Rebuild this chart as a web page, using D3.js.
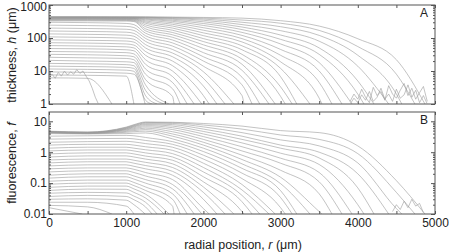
<!DOCTYPE html>
<html>
<head>
<meta charset="utf-8">
<script src="https://cdn.jsdelivr.net/npm/d3@7"></script>
<style>
  body { margin: 0; background: #fff; }
  svg { display: block; font-family: "Liberation Sans", Arial, sans-serif; }
</style>
</head>
<body>
<div id="chart-area"></div>
<script>
// radial grid the profiles were read on (um)
var R = [0, 500, 1000, 1100, 1250, 1600, 2000, 2500, 3000, 3500, 4000, 4500];

// radius where each profile runs out (um)
var ends = [4870, 4740, 4570, 4400, 4210, 4080, 3925, 3795, 3665, 3535, 3380, 3210,
    3150, 3060, 2930, 2850, 2730, 2630, 2525, 2395, 2280, 2175, 2075, 1980, 1880,
    1790, 1700, 1620, 1555, 1490, 1400, 1335, 1245, 1100, 815, 430];

// thickness h (um), one row per profile, values on R
// (the last profile is only the ragged trace drawn below)
var thickness = [
    [440, 440, 438, 437, 435, 430, 420, 400, 335, 230, 95, 22],
    [435, 435, 432, 432, 430, 420, 400, 350, 280, 170, 55, 8],
    [430, 430, 428, 427, 425, 405, 375, 300, 220, 120, 30, 2],
    [425, 425, 422, 421, 415, 390, 345, 255, 167, 80, 14],
    [420, 420, 416, 415, 405, 370, 310, 215, 123, 50, 5],
    [415, 415, 410, 408, 390, 345, 275, 180, 91, 32, 2],
    [410, 410, 405, 402, 375, 320, 240, 148, 66, 18],
    [405, 405, 400, 396, 355, 290, 205, 120, 45, 10],
    [400, 400, 395, 390, 330, 260, 172, 96, 30, 4.5],
    [390, 390, 385, 380, 305, 230, 143, 76, 19, 1.5],
    [380, 380, 375, 370, 280, 200, 118, 58, 12],
    [370, 370, 365, 358, 250, 172, 96, 44, 6.7],
    [360, 360, 355, 345, 220, 147, 78, 32, 3.3],
    [345, 345, 340, 330, 190, 125, 62, 23, 1.7],
    [330, 330, 325, 315, 165, 105, 48, 16],
    [300, 292, 276, 255, 140, 87, 36, 10.5],
    [245, 238, 225, 208, 117, 71, 27, 6.5],
    [200, 194, 184, 170, 97, 57, 20, 3.8],
    [163, 158, 150, 138, 79, 45, 14, 1.8],
    [133, 129, 122, 113, 63, 35, 9.5],
    [108, 105, 99, 92, 50, 27, 6],
    [88, 85, 81, 75, 39, 20, 3.5],
    [72, 70, 66, 61, 30, 14.5, 1.8],
    [59, 57, 54, 50, 22, 10],
    [48, 47, 44, 41, 16, 6.8],
    [39, 38, 36, 33, 11.5, 4.5],
    [32, 31, 29, 27, 8, 2.9],
    [26, 25, 24, 22, 5.5, 1.7],
    [21, 20, 19, 18, 3.8],
    [17, 16.5, 15.6, 14.5, 2.6],
    [14, 13.6, 12.9, 12, 1.8],
    [11.5, 11.2, 10.6, 9.8, 1.3],
    [9.4, 9.1, 8.6, 8],
    [7.6, 7.4, 7],
    [6.2, 6.0],
    []
];

// fluorescence f, same profiles, values on R
var fluorescence = [
    [4.8, 4.5, 6.5, 7.8, 9.5, 9.3, 8.5, 7.0, 5.0, 4.3, 1.6, 0.12],
    [4.7, 4.4, 6.3, 7.5, 9.2, 9.0, 7.6, 5.6, 3.6, 2.6, 0.9, 0.05],
    [4.6, 4.4, 6.1, 7.2, 8.8, 8.5, 6.6, 4.3, 2.5, 1.6, 0.45, 0.015],
    [4.6, 4.3, 5.9, 6.9, 8.3, 7.8, 5.6, 3.3, 1.7, 1.0, 0.2],
    [4.5, 4.3, 5.7, 6.6, 7.8, 7.0, 4.7, 2.6, 1.35, 0.65, 0.07],
    [4.5, 4.2, 5.5, 6.2, 7.2, 6.2, 3.9, 2.0, 0.93, 0.4, 0.02],
    [4.4, 4.2, 5.3, 5.8, 6.6, 5.4, 3.2, 1.5, 0.64, 0.22],
    [4.4, 4.1, 5.0, 5.4, 6.0, 4.6, 2.6, 1.1, 0.44, 0.11],
    [4.3, 4.1, 4.7, 5.0, 5.4, 3.9, 2.1, 0.8, 0.26, 0.045],
    [4.2, 4.0, 4.4, 4.6, 4.8, 3.3, 1.7, 0.58, 0.155, 0.012],
    [4.0, 3.9, 4.0, 4.1, 4.2, 2.7, 1.35, 0.42, 0.096],
    [3.3, 3.4, 3.5, 3.4, 3.0, 2.2, 1.05, 0.3, 0.057],
    [2.65, 2.75, 2.8, 2.7, 2.4, 1.8, 0.8, 0.21, 0.034],
    [2.1, 2.2, 2.25, 2.15, 1.9, 1.45, 0.6, 0.14, 0.016],
    [1.7, 1.8, 1.8, 1.7, 1.5, 1.15, 0.44, 0.09],
    [1.35, 1.45, 1.45, 1.35, 1.2, 0.9, 0.32, 0.06],
    [1.1, 1.18, 1.18, 1.1, 0.95, 0.7, 0.23, 0.04],
    [0.88, 0.95, 0.95, 0.88, 0.75, 0.55, 0.16, 0.025],
    [0.7, 0.76, 0.76, 0.7, 0.6, 0.42, 0.11, 0.012],
    [0.56, 0.6, 0.6, 0.55, 0.47, 0.32, 0.075],
    [0.45, 0.49, 0.49, 0.44, 0.37, 0.24, 0.05],
    [0.36, 0.39, 0.39, 0.35, 0.29, 0.18, 0.03],
    [0.29, 0.31, 0.31, 0.28, 0.22, 0.13, 0.015],
    [0.23, 0.25, 0.25, 0.22, 0.17, 0.09],
    [0.18, 0.2, 0.2, 0.17, 0.13, 0.065],
    [0.145, 0.16, 0.16, 0.135, 0.1, 0.045],
    [0.115, 0.125, 0.125, 0.105, 0.075, 0.03],
    [0.092, 0.1, 0.1, 0.083, 0.058, 0.018],
    [0.073, 0.08, 0.08, 0.065, 0.044],
    [0.058, 0.064, 0.063, 0.05, 0.033],
    [0.047, 0.05, 0.048, 0.038, 0.024],
    [0.037, 0.04, 0.037, 0.029, 0.017],
    [0.03, 0.031, 0.028, 0.02],
    [0.024, 0.024, 0.018],
    [0.019, 0.017],
    [0.016]
];

// noisy tails near the detection floor
var tailR = [3900, 3950, 4000, 4050, 4100, 4150, 4200, 4250, 4300, 4350, 4400,
    4450, 4500, 4550, 4600, 4650, 4700, 4750, 4800, 4850, 4900];
var tailH1 = [1.2, 2.0, 1.4, 2.8, 1.6, 1.1, 3.2, 1.8, 2.4, 1.3, 3.6, 2.0, 1.5, 2.6, 4.2, 1.8, 3.0, 1.4, 2.2, 3.4, 1.2];
var tailH2 = [1.0, 1.5, 1.1, 1.9, 1.3, 2.4, 1.2, 1.6, 3.0, 1.4, 2.0, 1.2, 2.8, 1.5, 1.9, 3.8, 1.6, 2.6, 1.1, 1.8, 1.0];
var tailFR = [4450, 4500, 4550, 4600, 4650, 4700, 4750, 4800, 4850];
var tailF = [0.012, 0.02, 0.014, 0.026, 0.016, 0.03, 0.018, 0.022, 0.011];
var jagR = [0, 40, 80, 120, 160, 200, 240, 280, 320, 360, 400, 440, 480, 520, 560, 600, 640];
var jagH = [6.5, 8, 6, 9, 7, 10, 7.5, 9.5, 8, 11, 8.5, 10, 7, 5, 3, 1.6, 1];

var xTicks = [0, 1000, 2000, 3000, 4000, 5000];
var xMinor = [500, 1500, 2500, 3500, 4500];
var hTicks = [1, 10, 100, 1000];
var fTicks = [0.01, 0.1, 1, 10];

var W = 449, H = 252;
var svg = d3.select("#chart-area")
    .append("svg")
    .attr("width", W)
    .attr("height", H);

var x = d3.scaleLinear().domain([0, 5000]).range([49, 435]);

var lineColor = "#9a9a9a";

function minorLog(lo, hi) {
    var out = [];
    for (var e = Math.floor(Math.log10(lo)); e < Math.ceil(Math.log10(hi)); e++) {
        for (var m = 2; m <= 9; m++) {
            var v = m * Math.pow(10, e);
            if (v > lo && v < hi) out.push(v);
        }
    }
    return out;
}

function styleAxis(sel) {
    sel.select(".domain").remove();
    sel.selectAll(".tick line").attr("stroke", "#555");
    sel.selectAll(".tick text")
        .attr("font-size", 12)
        .attr("fill", "#222")
        .attr("font-family", "Liberation Sans, Arial, sans-serif");
}

function panel(id, domain, top, bottom, rows, floor, ticks, fmt, letter, showX) {
    var y = d3.scaleLog().domain(domain).range([bottom, top]);
    var g = svg.append("g");

    g.append("clipPath").attr("id", "clip" + id)
        .append("rect")
        .attr("x", x(0)).attr("y", top)
        .attr("width", x(5000) - x(0)).attr("height", bottom - top);

    var line = d3.line()
        .x(function(d) { return x(d[0]); })
        .y(function(d) { return y(d[1]); })
        .curve(d3.curveMonotoneX);

    var curves = rows.map(function(vals, i) {
        var pts = vals.map(function(v, j) { return [R[j], v]; });
        pts.push([ends[i], floor]);
        return pts;
    }).filter(function(pts) { return pts.length > 1; });

    g.append("g")
        .attr("clip-path", "url(#clip" + id + ")")
        .selectAll("path")
        .data(curves)
        .enter()
        .append("path")
        .attr("d", line)
        .attr("fill", "none")
        .attr("stroke", lineColor)
        .attr("stroke-opacity", 0.85)
        .attr("stroke-width", 0.7);

    // frame
    g.append("rect")
        .attr("x", x(0)).attr("y", top)
        .attr("width", x(5000) - x(0)).attr("height", bottom - top)
        .attr("fill", "none")
        .attr("stroke", "#555")
        .attr("stroke-width", 1);

    // x ticks on bottom and top edges, pointing inward
    g.append("g").attr("transform", "translate(0," + bottom + ")")
        .call(d3.axisBottom(x).tickValues(xTicks.concat(xMinor)).tickSize(-3).tickPadding(4)
            .tickFormat(showX ? function(d) { return xTicks.indexOf(d) >= 0 ? d : ""; } : ""))
        .call(styleAxis);
    g.append("g").attr("transform", "translate(0," + top + ")")
        .call(d3.axisTop(x).tickValues(xTicks.concat(xMinor)).tickSize(-3).tickFormat(""))
        .call(styleAxis);

    // log ticks on left and right edges
    var minor = minorLog(domain[0], domain[1]);
    g.append("g").attr("transform", "translate(" + x(0) + ",0)")
        .call(d3.axisLeft(y).tickValues(ticks).tickSize(-4).tickPadding(2).tickFormat(fmt))
        .call(styleAxis);
    g.append("g").attr("transform", "translate(" + x(0) + ",0)")
        .call(d3.axisLeft(y).tickValues(minor).tickSize(-2).tickFormat(""))
        .call(styleAxis);
    g.append("g").attr("transform", "translate(" + x(5000) + ",0)")
        .call(d3.axisRight(y).tickValues(ticks).tickSize(-4).tickFormat(""))
        .call(styleAxis);
    g.append("g").attr("transform", "translate(" + x(5000) + ",0)")
        .call(d3.axisRight(y).tickValues(minor).tickSize(-2).tickFormat(""))
        .call(styleAxis);

    g.append("text")
        .attr("x", 424).attr("y", top + 12)
        .attr("text-anchor", "middle")
        .attr("font-size", 12)
        .attr("fill", "#222")
        .text(letter);

    return { g: g, y: y, clip: "url(#clip" + id + ")" };
}

var pA = panel("A", [1, 1000], 5, 104, thickness, 1, hTicks, d3.format("d"), "A", false);
var pB = panel("B", [0.01, 20], 112, 214, fluorescence, 0.01, fTicks,
    function(d) { return String(d); }, "B", true);

// keep the "1000" label inside the picture
pA.g.selectAll("text").filter(function() { return this.textContent === "1000"; })
    .attr("dy", "0.45em");

// noisy tails and the last ragged profile
function extra(p, rs, vs) {
    p.g.append("path")
        .datum(rs.map(function(r, i) { return [r, vs[i]]; }))
        .attr("clip-path", p.clip)
        .attr("d", d3.line().x(function(d) { return x(d[0]); }).y(function(d) { return p.y(d[1]); }))
        .attr("fill", "none")
        .attr("stroke", lineColor)
        .attr("stroke-opacity", 0.85)
        .attr("stroke-width", 0.7);
}
extra(pA, tailR, tailH1);
extra(pA, tailR, tailH2);
extra(pA, jagR, jagH);
extra(pB, tailFR, tailF);

// axis titles
svg.append("text")
    .attr("transform", "translate(16,55) rotate(-90)")
    .attr("text-anchor", "middle")
    .attr("font-size", 12.5)
    .attr("fill", "#222")
    .html('thickness, <tspan font-style="italic">h</tspan> (\u03bcm)');

svg.append("text")
    .attr("transform", "translate(16,163) rotate(-90)")
    .attr("text-anchor", "middle")
    .attr("font-size", 12.5)
    .attr("fill", "#222")
    .html('fluorescence, <tspan font-style="italic">f</tspan>');

svg.append("text")
    .attr("x", 243).attr("y", 249)
    .attr("text-anchor", "middle")
    .attr("font-size", 12.5)
    .attr("fill", "#222")
    .html('radial position, <tspan font-style="italic">r</tspan> (\u03bcm)');
</script>
</body>
</html>
